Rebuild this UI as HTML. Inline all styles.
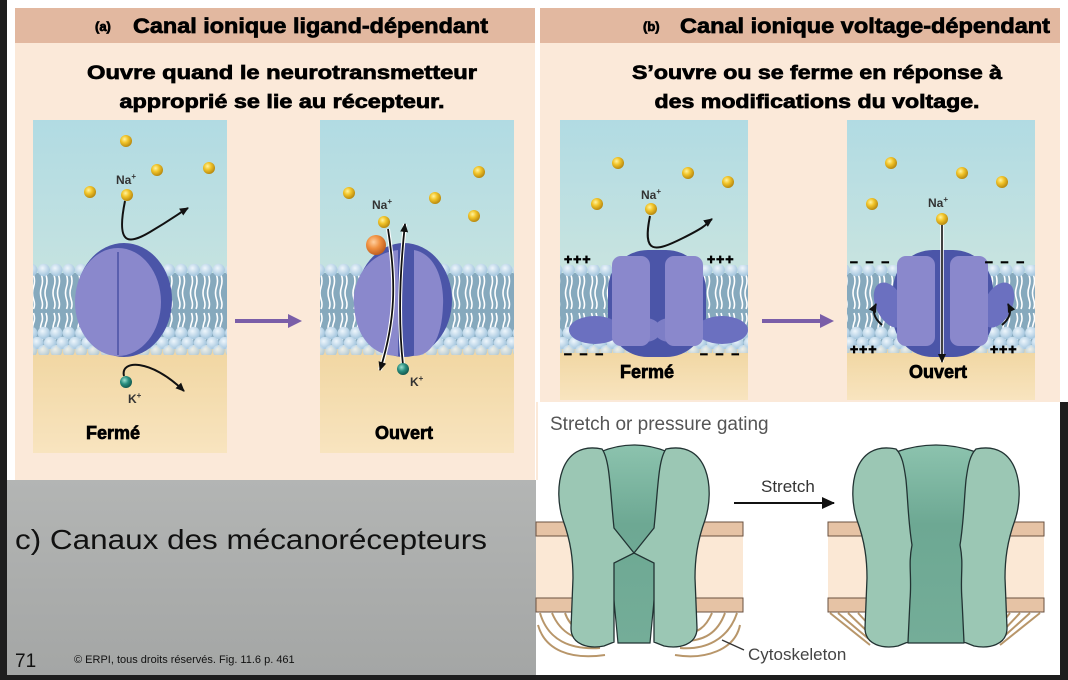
<!DOCTYPE html>
<html><head><meta charset="utf-8"><style>
html,body{margin:0;padding:0;background:#1e1e1e;}
svg{display:block;}
.h{font-family:"Liberation Sans",sans-serif;font-weight:bold;stroke:#000;stroke-width:0.7px;paint-order:stroke;}
</style></head><body>
<svg width="1068" height="680" viewBox="0 0 1068 680" xmlns="http://www.w3.org/2000/svg">
<defs>
<linearGradient id="sky" x1="0" y1="0" x2="0" y2="1"><stop offset="0" stop-color="#b1dbe3"/><stop offset="1" stop-color="#dcebdd"/></linearGradient>
<linearGradient id="tan" x1="0" y1="0" x2="0" y2="1"><stop offset="0" stop-color="#f0d59f"/><stop offset="1" stop-color="#f8e4bf"/></linearGradient>
<linearGradient id="gray" x1="0" y1="0" x2="0" y2="1"><stop offset="0" stop-color="#b3b5b4"/><stop offset="1" stop-color="#a4a6a5"/></linearGradient>
<radialGradient id="ball" cx="0.38" cy="0.35" r="0.65"><stop offset="0" stop-color="#fff3a0"/><stop offset="0.45" stop-color="#f2c52a"/><stop offset="1" stop-color="#b98a10"/></radialGradient>
<radialGradient id="kball" cx="0.38" cy="0.35" r="0.65"><stop offset="0" stop-color="#9fe0d0"/><stop offset="0.5" stop-color="#2a8f80"/><stop offset="1" stop-color="#145a50"/></radialGradient>
<radialGradient id="oball" cx="0.38" cy="0.35" r="0.65"><stop offset="0" stop-color="#ffd0a0"/><stop offset="0.5" stop-color="#f09040"/><stop offset="1" stop-color="#c06020"/></radialGradient>
<radialGradient id="head" cx="0.4" cy="0.35" r="0.6"><stop offset="0" stop-color="#eef6fc"/><stop offset="1" stop-color="#a9c9e0"/></radialGradient>
<linearGradient id="core" x1="0" y1="0" x2="0" y2="1"><stop offset="0" stop-color="#8cc3ae"/><stop offset="0.4" stop-color="#6da893"/><stop offset="1" stop-color="#74ad98"/></linearGradient>
<pattern id="lip" patternUnits="userSpaceOnUse" width="12.5" height="92" patternTransform="translate(0,263)">
<rect x="0" y="10" width="12.5" height="72" fill="#86a9bd"/>
<path d="M4,12 q2,6 0,12 q-2,6 0,12 q2,6 0,10 M8.5,12 q2,6 0,12 q-2,6 0,12 q2,6 0,10" stroke="#fff" stroke-width="1.6" fill="none"/>
<path d="M4,50 q2,6 0,10 q-2,6 0,10 q2,6 0,10 M8.5,50 q2,6 0,10 q-2,6 0,10 q2,6 0,10" stroke="#fff" stroke-width="1.6" fill="none"/>
<circle cx="6.25" cy="7" r="6.2" fill="url(#head)"/>
<circle cx="6.25" cy="70" r="6.2" fill="url(#head)"/>
<circle cx="0" cy="80" r="6.2" fill="url(#head)"/><circle cx="12.5" cy="80" r="6.2" fill="url(#head)"/>
<circle cx="6.25" cy="88" r="6" fill="url(#head)" opacity="0.8"/>
</pattern>
<marker id="ah" markerWidth="10" markerHeight="10" refX="8" refY="5" orient="auto" markerUnits="userSpaceOnUse"><path d="M0,1 L9,5 L0,9 Z" fill="#111"/></marker>
<marker id="ah2" markerWidth="14" markerHeight="12" refX="12" refY="6" orient="auto" markerUnits="userSpaceOnUse"><path d="M0,0 L13,6 L0,12 Z" fill="#111"/></marker>
<g id="lchan">
<path d="M-32,449 C-75,440 -81,490 -71,520 C-63,542 -61,560 -61,578 L-63,628 C-63,645 -45,649 -30,646 L-20,642 L-20,563 L0,553 L-20,528 C-24,490 -24,460 -32,449 Z" fill="#9bc7b4" stroke="#233" stroke-width="1.3"/>
</g>
<g id="ochan">
<path d="M-40,449 C-83,440 -89,490 -79,520 C-71,542 -69,560 -69,578 L-71,628 C-71,645 -53,649 -38,646 L-28,642 L-26,600 C-24,575 -28,565 -24,545 C-28,520 -28,500 -30,480 C-32,465 -34,455 -40,449 Z" fill="#9bc7b4" stroke="#233" stroke-width="1.3"/>
</g>
</defs>

<rect x="7" y="0" width="1061" height="680" fill="#ffffff"/>
<rect x="0" y="0" width="7" height="680" fill="#1e1e1e"/>
<!-- panel a -->
<rect x="15" y="8" width="520" height="472" fill="#fbe9d9"/>
<rect x="15" y="8" width="520" height="35" fill="#e2b8a0"/>
<text x="95" y="31" class="h" font-size="13">(a)</text>
<text x="133" y="33" class="h" font-size="21" textLength="355" lengthAdjust="spacingAndGlyphs">Canal ionique ligand-dépendant</text>
<text x="282" y="79" class="h" font-size="19" text-anchor="middle" textLength="390" lengthAdjust="spacingAndGlyphs">Ouvre quand le neurotransmetteur</text>
<text x="282" y="108" class="h" font-size="19" text-anchor="middle" textLength="325" lengthAdjust="spacingAndGlyphs">approprié se lie au récepteur.</text>

<!-- panel b -->
<rect x="540" y="8" width="520" height="394" fill="#fbe9d9"/>
<rect x="540" y="8" width="520" height="35" fill="#e2b8a0"/>
<text x="643" y="31" class="h" font-size="13">(b)</text>
<text x="680" y="33" class="h" font-size="21" textLength="370" lengthAdjust="spacingAndGlyphs">Canal ionique voltage-dépendant</text>
<text x="817" y="79" class="h" font-size="19" text-anchor="middle" textLength="370" lengthAdjust="spacingAndGlyphs">S’ouvre ou se ferme en réponse à</text>
<text x="817" y="108" class="h" font-size="19" text-anchor="middle" textLength="325" lengthAdjust="spacingAndGlyphs">des modifications du voltage.</text>

<!-- Panel a Fermé -->
<g>
<rect x="33" y="120" width="194" height="333" fill="url(#sky)"/>
<rect x="33" y="340" width="194" height="113" fill="url(#tan)"/>
<rect x="33" y="263" width="194" height="92" fill="url(#lip)"/>
<ellipse cx="124" cy="300" rx="48" ry="57" fill="#4b55a8"/>
<ellipse cx="118" cy="302" rx="43" ry="54" fill="#8a88cc"/>
<line x1="118" y1="252" x2="118" y2="355" stroke="#5a5fae" stroke-width="2"/>
<circle cx="126" cy="141" r="6" fill="url(#ball)"/><circle cx="157" cy="170" r="6" fill="url(#ball)"/>
<circle cx="209" cy="168" r="6" fill="url(#ball)"/><circle cx="90" cy="192" r="6" fill="url(#ball)"/>
<circle cx="127" cy="195" r="6" fill="url(#ball)"/>
<text x="116" y="184" font-family="Liberation Sans,sans-serif" font-weight="bold" font-size="12" fill="#333">Na<tspan font-size="8" dy="-5">+</tspan></text>
<path d="M125,201 C116,245 128,245 150,232 S178,214 188,208" stroke="#111" stroke-width="2" fill="none" marker-end="url(#ah)"/>
<circle cx="126" cy="382" r="6" fill="url(#kball)"/>
<text x="128" y="403" font-family="Liberation Sans,sans-serif" font-weight="bold" font-size="12" fill="#333">K<tspan font-size="8" dy="-5">+</tspan></text>
<path d="M124,376 C120,360 150,358 184,391" stroke="#111" stroke-width="2" fill="none" marker-end="url(#ah)"/>
<text x="86" y="439" class="h" font-size="18">Fermé</text>
</g>
<path d="M235,321 L290,321" stroke="#7a5ea8" stroke-width="4"/><path d="M288,314 L302,321 L288,328 Z" fill="#7a5ea8"/>

<!-- Panel a Ouvert -->
<g>
<rect x="320" y="120" width="194" height="333" fill="url(#sky)"/>
<rect x="320" y="340" width="194" height="113" fill="url(#tan)"/>
<rect x="320" y="263" width="194" height="92" fill="url(#lip)"/>
<ellipse cx="404" cy="300" rx="48" ry="57" fill="#4b55a8"/>
<path d="M398,250 C360,255 352,290 354,305 C356,340 375,356 398,356 Z" fill="#8a88cc"/>
<path d="M414,250 C440,255 444,290 443,305 C442,340 430,356 414,356 Z" fill="#8a88cc"/>
<circle cx="349" cy="193" r="6" fill="url(#ball)"/><circle cx="435" cy="198" r="6" fill="url(#ball)"/>
<circle cx="479" cy="172" r="6" fill="url(#ball)"/><circle cx="474" cy="216" r="6" fill="url(#ball)"/>
<circle cx="384" cy="222" r="6" fill="url(#ball)"/>
<circle cx="376" cy="245" r="10" fill="url(#oball)"/>
<text x="372" y="209" font-family="Liberation Sans,sans-serif" font-weight="bold" font-size="12" fill="#333">Na<tspan font-size="8" dy="-5">+</tspan></text>
<path d="M388,229 C396,280 396,320 380,370" stroke="#fff" stroke-width="4" fill="none"/>
<path d="M388,229 C396,280 396,320 380,370" stroke="#111" stroke-width="1.8" fill="none" marker-end="url(#ah)"/>
<path d="M403,365 C398,320 400,270 405,224" stroke="#fff" stroke-width="4" fill="none"/>
<path d="M403,365 C398,320 400,270 405,224" stroke="#111" stroke-width="1.8" fill="none" marker-end="url(#ah)"/>
<circle cx="403" cy="369" r="6" fill="url(#kball)"/>
<text x="410" y="386" font-family="Liberation Sans,sans-serif" font-weight="bold" font-size="12" fill="#333">K<tspan font-size="8" dy="-5">+</tspan></text>
<text x="375" y="439" class="h" font-size="18">Ouvert</text>
</g>

<!-- Panel b Fermé -->
<g>
<rect x="560" y="120" width="188" height="280" fill="url(#sky)"/>
<rect x="560" y="345" width="188" height="55" fill="url(#tan)"/>
<rect x="560" y="265" width="188" height="88" fill="url(#lip)"/>
<rect x="608" y="250" width="98" height="107" rx="40" fill="#4b55a8"/>
<ellipse cx="595" cy="330" rx="26" ry="14" fill="#6b70c0"/>
<ellipse cx="722" cy="330" rx="26" ry="14" fill="#6b70c0"/>
<ellipse cx="645" cy="330" rx="16" ry="12" fill="#7d7ec6"/><ellipse cx="670" cy="330" rx="16" ry="12" fill="#7d7ec6"/>
<rect x="612" y="256" width="38" height="90" rx="9" fill="#8a88cc"/>
<rect x="665" y="256" width="38" height="90" rx="9" fill="#8a88cc"/>
<circle cx="618" cy="163" r="6" fill="url(#ball)"/><circle cx="688" cy="173" r="6" fill="url(#ball)"/>
<circle cx="728" cy="182" r="6" fill="url(#ball)"/><circle cx="597" cy="204" r="6" fill="url(#ball)"/>
<circle cx="651" cy="209" r="6" fill="url(#ball)"/>
<text x="641" y="199" font-family="Liberation Sans,sans-serif" font-weight="bold" font-size="12" fill="#333">Na<tspan font-size="8" dy="-5">+</tspan></text>
<path d="M650,216 C642,255 655,252 683,238 S705,224 712,219" stroke="#111" stroke-width="2" fill="none" marker-end="url(#ah)"/>
<text x="564" y="264" class="h" font-size="14" letter-spacing="1">+++</text>
<text x="707" y="264" class="h" font-size="14" letter-spacing="1">+++</text>
<text x="564" y="358" class="h" font-size="14" letter-spacing="2">– – –</text>
<text x="700" y="358" class="h" font-size="14" letter-spacing="2">– – –</text>
<text x="620" y="378" class="h" font-size="18">Fermé</text>
</g>
<path d="M762,321 L822,321" stroke="#7a5ea8" stroke-width="4"/><path d="M820,314 L834,321 L820,328 Z" fill="#7a5ea8"/>

<!-- Panel b Ouvert -->
<g>
<rect x="847" y="120" width="188" height="280" fill="url(#sky)"/>
<rect x="847" y="345" width="188" height="55" fill="url(#tan)"/>
<rect x="847" y="265" width="188" height="88" fill="url(#lip)"/>
<rect x="893" y="250" width="100" height="107" rx="40" fill="#4b55a8"/>
<ellipse cx="890" cy="305" rx="14" ry="24" fill="#6b70c0" transform="rotate(-25 890 305)"/>
<ellipse cx="998" cy="305" rx="14" ry="24" fill="#6b70c0" transform="rotate(25 998 305)"/>
<rect x="897" y="256" width="38" height="90" rx="9" fill="#8a88cc"/>
<rect x="950" y="256" width="38" height="90" rx="9" fill="#8a88cc"/>
<circle cx="891" cy="163" r="6" fill="url(#ball)"/><circle cx="962" cy="173" r="6" fill="url(#ball)"/>
<circle cx="1002" cy="182" r="6" fill="url(#ball)"/><circle cx="872" cy="204" r="6" fill="url(#ball)"/>
<circle cx="942" cy="219" r="6" fill="url(#ball)"/>
<text x="928" y="207" font-family="Liberation Sans,sans-serif" font-weight="bold" font-size="12" fill="#333">Na<tspan font-size="8" dy="-5">+</tspan></text>
<line x1="942" y1="225" x2="942" y2="362" stroke="#fff" stroke-width="3.5"/>
<line x1="942" y1="225" x2="942" y2="362" stroke="#111" stroke-width="1.6" marker-end="url(#ah)"/>
<path d="M882,325 C874,318 872,312 876,304" stroke="#111" stroke-width="2" fill="none" marker-end="url(#ah)"/>
<path d="M1002,325 C1010,318 1012,312 1008,304" stroke="#111" stroke-width="2" fill="none" marker-end="url(#ah)"/>
<text x="850" y="266" class="h" font-size="14" letter-spacing="2">– – –</text>
<text x="985" y="266" class="h" font-size="14" letter-spacing="2">– – –</text>
<text x="850" y="354" class="h" font-size="14" letter-spacing="1">+++</text>
<text x="990" y="354" class="h" font-size="14" letter-spacing="1">+++</text>
<text x="909" y="378" class="h" font-size="18">Ouvert</text>
</g>

<!-- gray bottom-left -->
<rect x="7" y="480" width="529" height="195" fill="url(#gray)"/>
<text x="15" y="549" font-family="Liberation Sans,sans-serif" font-size="28" fill="#111" textLength="472" lengthAdjust="spacingAndGlyphs">c) Canaux des mécanorécepteurs</text>
<text x="15" y="667" font-family="Liberation Sans,sans-serif" font-size="19" fill="#111">71</text>
<text x="74" y="663" font-family="Liberation Sans,sans-serif" font-size="11" fill="#111">© ERPI, tous droits réservés. Fig. 11.6 p. 461</text>

<!-- mechanoreceptor image -->
<rect x="536" y="402" width="524" height="273" fill="#ffffff"/>
<rect x="1060" y="402" width="8" height="278" fill="#1e1e1e"/>
<rect x="0" y="675" width="1068" height="5" fill="#1e1e1e"/>
<rect x="536" y="402" width="2" height="78" fill="#fbe9d9"/>
<text x="550" y="430" font-family="Liberation Sans,sans-serif" font-size="19" fill="#555">Stretch or pressure gating</text>
<g>
<rect x="536" y="522" width="207" height="90" fill="#fbe8d5"/>
<rect x="536" y="522" width="207" height="14" fill="#e6c3a5" stroke="#6a5040" stroke-width="1"/>
<rect x="536" y="598" width="207" height="14" fill="#e6c3a5" stroke="#6a5040" stroke-width="1"/>
<rect x="828" y="522" width="216" height="90" fill="#fbe8d5"/>
<rect x="828" y="522" width="216" height="14" fill="#e6c3a5" stroke="#6a5040" stroke-width="1"/>
<rect x="828" y="598" width="216" height="14" fill="#e6c3a5" stroke="#6a5040" stroke-width="1"/>
</g>
<g stroke="#b8966a" stroke-width="2" fill="none">
<path d="M540,613 C548,640 570,650 600,648"/><path d="M552,613 C560,632 575,642 600,641"/><path d="M565,613 C570,627 580,634 600,634"/><path d="M538,625 C545,650 570,660 605,655"/>
<path d="M737,613 C728,640 705,650 680,648"/><path d="M725,613 C718,632 705,642 680,641"/><path d="M712,613 C706,627 698,634 680,634"/><path d="M740,625 C735,650 705,660 675,655"/>
<path d="M830,613 L870,645"/><path d="M838,613 L870,640"/><path d="M848,613 L870,634"/><path d="M858,613 L872,628"/>
<path d="M1040,613 L1000,645"/><path d="M1030,613 L1000,640"/><path d="M1020,613 L1000,634"/><path d="M1010,613 L998,628"/>
</g>
<g transform="translate(634,0)">
<path d="M-34,452 Q0,438 34,452 L16,643 L-16,643 Z" fill="url(#core)" stroke="#233" stroke-width="1.2"/>
<use href="#lchan"/>
<use href="#lchan" transform="scale(-1,1)"/>
</g>
<g transform="translate(936,0)">
<path d="M-40,452 Q0,438 40,452 L28,643 L-28,643 Z" fill="url(#core)" stroke="#233" stroke-width="1.2"/>
<use href="#ochan"/>
<use href="#ochan" transform="scale(-1,1)"/>
</g>
<text x="761" y="492" font-family="Liberation Sans,sans-serif" font-size="17" fill="#333">Stretch</text>
<line x1="734" y1="503" x2="834" y2="503" stroke="#111" stroke-width="2" marker-end="url(#ah2)"/>
<line x1="722" y1="640" x2="744" y2="650" stroke="#333" stroke-width="1.3"/>
<text x="748" y="660" font-family="Liberation Sans,sans-serif" font-size="17" fill="#444">Cytoskeleton</text>
</svg>
</body></html>
